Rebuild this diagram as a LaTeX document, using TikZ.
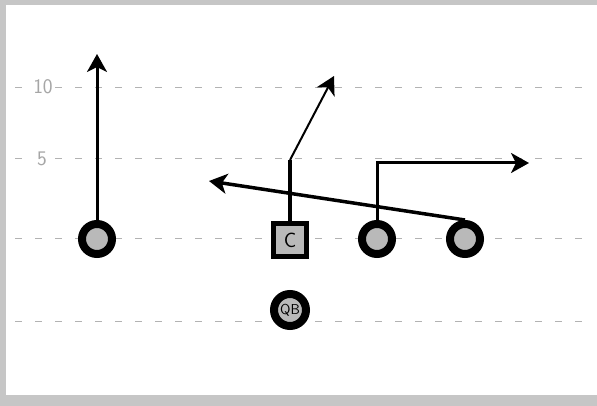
\documentclass[tikz,border=0pt]{standalone}
\usepackage{tikz}
\usetikzlibrary{arrows.meta}

\begin{document}
\begin{tikzpicture}[
	x=1pt, y=-1pt,
	player/.style={
		circle, draw=black, line width=8pt,
		fill=gray!55, minimum size=30pt,
		inner sep=0pt, font=\sffamily\Large
	},
	snapper/.style={
		rectangle, draw=black, line width=5pt,
		fill=gray!55, minimum size=33pt,
		inner sep=0pt, font=\sffamily\huge
	},
	yard/.style={gray!60, line width=0.8pt, dash pattern=on 7pt off 13pt},
	yardmark/.style={fill=white, inner sep=2pt, text=gray!70, font=\sffamily\huge},
	route/.style={line width=3pt, -{Stealth[length=18pt, width=20pt, inset=5pt]}},
	line join=miter
	]
	\useasboundingbox (0,0) rectangle (597,406);
	% edge of the scan
	\fill[gray!45] (0,0) rectangle (597,5);
	\fill[gray!45] (0,0) rectangle (6,406);
	\fill[gray!45] (0,395) rectangle (597,406);
	% yard lines
	\foreach \y in {87,158,238,321}
	{
		\draw[yard] (15,\y) -- (592,\y);
	}
	\node[yardmark] (ten) at (43,87) {10};
	\node[yardmark] (five) at (42,159) {5};
	% players
	\node[player] (wr) at (97,239) {};
	\node[snapper] (c) at (290,240) {C};
	\node[player] (rt) at (377,239) {};
	\node[player] (te) at (465,239) {};
	\node[player, line width=8pt, minimum size=32pt] (qb) at (290,310) {QB};
	% routes
	\coordinate (wrEnd) at (97,54);
	\coordinate (cBreak) at (290,160);
	\coordinate (cEnd) at (334,76);
	\coordinate (rtEnd) at (529,163);
	\coordinate (teEnd) at (209,181);
	\draw[route] (wr.north) -- (wrEnd);
	\draw[line width=4pt] (c.north) -- (cBreak);
	\draw[route, line width=2pt] (cBreak) -- (cEnd);
	\draw[route] (rt.north) |- (rtEnd);
	\draw[route, line width=3.5pt] (te.north) -- (teEnd);
\end{tikzpicture}
\end{document}
